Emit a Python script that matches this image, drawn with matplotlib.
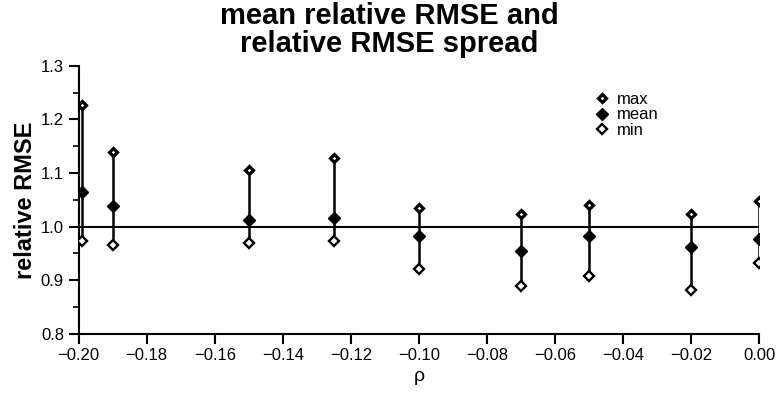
import numpy as np
import matplotlib
matplotlib.use('Agg')
import matplotlib.pyplot as plt
from matplotlib.ticker import MultipleLocator

plt.rcParams['font.family'] = ['Liberation Sans', 'DejaVu Sans']

# donnees
rho = [-0.199, -0.19, -0.15, -0.125, -0.10, -0.07, -0.05, -0.02, 0.0]
rmse_max = [1.227, 1.140, 1.105, 1.128, 1.035, 1.023, 1.041, 1.023, 1.047]
rmse_mean = [1.065, 1.039, 1.013, 1.016, 0.983, 0.955, 0.982, 0.963, 0.977]
rmse_min = [0.973, 0.966, 0.970, 0.973, 0.921, 0.890, 0.908, 0.882, 0.932]

fig = plt.figure(figsize=(7.78, 3.97), dpi=100)
ax = fig.add_axes([0.101, 0.159, 0.875, 0.675])

# ligne de reference
ax.axhline(1.0, color='black', lw=1.5, zorder=1)

# barres min-max
ax.vlines(rho, rmse_min, rmse_max, color='black', lw=1.8, zorder=2)

ax.plot(rho, rmse_max, ls='none', marker='D', ms=4.5, mfc='white', mec='black',
        mew=2.3, label='max', zorder=3)
ax.plot(rho, rmse_mean, ls='none', marker='D', ms=6, mfc='black', mec='black',
        label='mean', zorder=3)
ax.plot(rho, rmse_min, ls='none', marker='D', ms=5, mfc='white', mec='black',
        mew=1.7, label='min', zorder=3)

ax.set_xlim(-0.2, 0.0)
ax.set_ylim(0.8, 1.3)
ax.xaxis.set_major_locator(MultipleLocator(0.02))
ax.yaxis.set_major_locator(MultipleLocator(0.1))
ax.yaxis.set_minor_locator(MultipleLocator(0.05))
ax.xaxis.set_major_formatter(plt.FuncFormatter(lambda v, p: ('%.2f' % v).replace('-', '\u2212') if abs(v) > 1e-9 else '0.00'))
ax.yaxis.set_major_formatter(plt.FuncFormatter(lambda v, p: '%.1f' % v))

for s in ['top', 'right']:
    ax.spines[s].set_visible(False)
for s in ['left', 'bottom']:
    ax.spines[s].set_linewidth(1.5)

ax.tick_params(axis='both', which='major', direction='out', length=7, width=1.5, labelsize=12)
ax.tick_params(axis='y', which='minor', direction='out', length=4, width=1.2)

ax.set_xlabel('\u03c1', fontsize=14, labelpad=3)
ax.set_ylabel('relative RMSE', fontsize=17, fontweight='bold', labelpad=3)

fig.suptitle('mean relative RMSE and\nrelative RMSE spread', fontsize=21,
             fontweight='bold', x=0.5, y=0.995, linespacing=1.0)

ax.legend(loc='upper left', bbox_to_anchor=(0.735, 0.96), frameon=False, fontsize=12,
          handletextpad=0.4, labelspacing=0.05, handlelength=1.0)

fig.savefig('out.png', dpi=100)
